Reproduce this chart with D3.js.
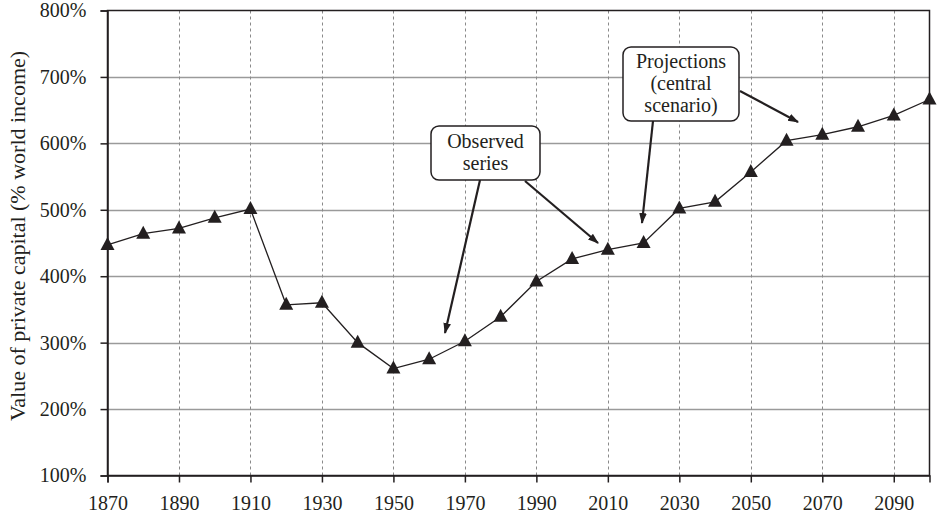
<!DOCTYPE html>
<html><head><meta charset="utf-8">
<script src="https://cdn.jsdelivr.net/npm/d3@7"></script>
<style>body{margin:0;background:#fff}svg{display:block}</style>
</head><body><svg id="c" width="938" height="516"></svg>
<script>
const years = [1870,1880,1890,1900,1910,1920,1930,1940,1950,1960,1970,1980,1990,2000,2010,2020,2030,2040,2050,2060,2070,2080,2090,2100];
const values = [447,464,472,488,501,357,360,300,261,275,302,339,392,426,440,450,502,512,557,604,613,625,642,666];
const xTicks = [1870,1890,1910,1930,1950,1970,1990,2010,2030,2050,2070,2090];
const yTicks = [100,200,300,400,500,600,700,800];
const yLabel = "Value of private capital (% world income)";
const notes = [
  {lines:["Observed","series"], box:[431,126,540,180], arrows:[[480,180,445,333],[525,181,598,243]]},
  {lines:["Projections","(central","scenario)"], box:[623,47,739,121], arrows:[[653,121,642,223],[740,91,798,122]]}
];

const FONT = "'Liberation Serif', 'DejaVu Serif', serif";
const svg = d3.select("#c").style("font-family", FONT);
const x = d3.scaleLinear().domain([1870,2100]).range([107.5,929.5]);
const y = d3.scaleLinear().domain([100,800]).range([475.5,10.5]);
const ink = "#231f20";

const defs = svg.append("defs");
defs.append("marker").attr("id","ah").attr("viewBox","0 0 10 10").attr("refX",9).attr("refY",5)
  .attr("markerWidth",5).attr("markerHeight",5).attr("markerUnits","strokeWidth").attr("orient","auto")
  .append("path").attr("d","M0,1.5L10,5L0,8.5Z").attr("fill",ink);

// horizontal grid
svg.append("g").selectAll("line").data(yTicks.slice(1,-1)).join("line")
  .attr("x1",x(1870)).attr("x2",x(2100)).attr("y1",d=>Math.round(y(d))+0.5).attr("y2",d=>Math.round(y(d))+0.5)
  .attr("stroke","#9a9a9a").attr("stroke-width",1.5);
// vertical dashed grid
svg.append("g").selectAll("line").data(xTicks.slice(1)).join("line")
  .attr("x1",d=>Math.round(x(d))+0.5).attr("x2",d=>Math.round(x(d))+0.5).attr("y1",y(800)).attr("y2",y(100))
  .attr("stroke","#8a8a8a").attr("stroke-width",1).attr("stroke-dasharray","3,3");

// frame
svg.append("rect").attr("x",x(1870)).attr("y",y(800)).attr("width",x(2100)-x(1870)).attr("height",y(100)-y(800))
  .attr("fill","none").attr("stroke",ink).attr("stroke-width",1.5);

// axes
const xa = svg.append("g").attr("transform",`translate(0,${y(100)})`)
  .call(d3.axisBottom(x).tickValues(xTicks).tickFormat(d3.format("d")).tickSize(7).tickPadding(9));
const ya = svg.append("g").attr("transform",`translate(${x(1870)},0)`)
  .call(d3.axisLeft(y).tickValues(yTicks).tickFormat(d=>d+"%").tickSize(7).tickPadding(14));
[xa,ya].forEach(g=>{g.attr("font-family",null).attr("font-size",null);
  g.select(".domain").attr("stroke",ink).attr("stroke-width",1.5);
  g.selectAll(".tick line").attr("stroke",ink).attr("stroke-width",1.5);
  g.selectAll(".tick text").style("font-family",FONT).style("font-size","20px").attr("fill",ink);});
xa.selectAll(".tick text").attr("dy","0.9em");
ya.selectAll(".tick text").attr("dy","0.32em");

// y label
svg.append("text").attr("transform",`translate(25,236) rotate(-90)`)
  .attr("text-anchor","middle").style("font-family",FONT).style("font-size","22px").attr("fill",ink).text(yLabel);

// line
svg.append("path").datum(years.map((d,i)=>[d,values[i]]))
  .attr("d",d3.line().x(d=>x(d[0])).y(d=>y(d[1]))).attr("fill","none").attr("stroke",ink).attr("stroke-width",1.3);
svg.append("g").selectAll("path").data(years.map((d,i)=>[d,values[i]])).join("path")
  .attr("transform",d=>`translate(${x(d[0])},${y(d[1])})`)
  .attr("d","M0,-8L7,5L-7,5Z").attr("fill",ink);

// annotations
notes.forEach(n=>{
  const g = svg.append("g");
  n.arrows.forEach(a=>g.append("line").attr("x1",a[0]).attr("y1",a[1]).attr("x2",a[2]).attr("y2",a[3])
    .attr("stroke",ink).attr("stroke-width",2.2).attr("marker-end","url(#ah)"));
  const [x0,y0,x1,y1] = n.box;
  g.append("rect").attr("x",x0).attr("y",y0).attr("width",x1-x0).attr("height",y1-y0).attr("rx",8)
    .attr("fill","#fff").attr("stroke",ink).attr("stroke-width",1.5);
  const cx=(x0+x1)/2, lh=22, top=(y0+y1)/2-(n.lines.length*lh)/2;
  n.lines.forEach((t,i)=>g.append("text").attr("x",cx).attr("y",top+lh*(i+1)-5).attr("text-anchor","middle")
    .style("font-family",FONT).style("font-size","20px").attr("fill",ink).text(t));
});
</script></body></html>
